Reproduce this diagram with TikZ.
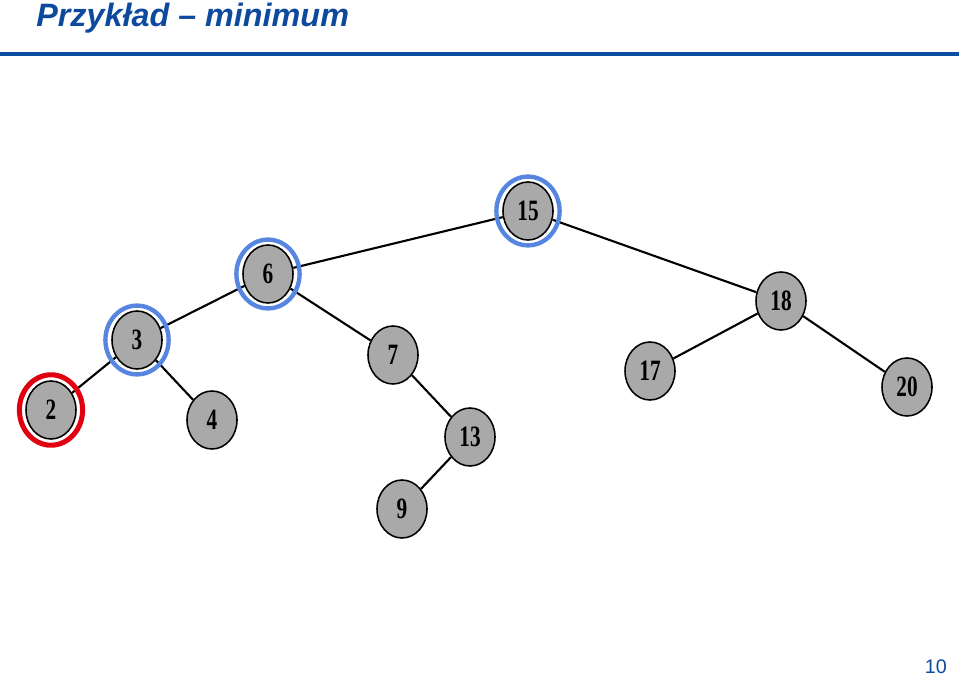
\documentclass[tikz,border=0pt]{standalone}
\usepackage{fontspec}
\setmainfont{Liberation Sans}
\newfontfamily\keyfont[FakeStretch=0.72]{Liberation Serif}
\usetikzlibrary{shapes.geometric}
\definecolor{cTitle}{HTML}{0D4A9E}
\definecolor{cRule}{HTML}{0B4DA2}
\definecolor{cRing}{HTML}{5686E0}
\definecolor{cMin}{HTML}{E0000F}
\definecolor{cKey}{HTML}{A9A9A9}
\tikzset{
  key/.style={ellipse, draw=black, line width=1.1pt, fill=cKey,
              minimum width=1.25cm, minimum height=1.45cm, inner sep=0pt,
              font=\keyfont\fontsize{21}{21}\selectfont\bfseries},
  link/.style={line width=1.5pt, black},
  ring/.style={line width=3.1pt, cRing},
  ringmin/.style={ring, cMin, line width=3.6pt},
  headline/.style={font=\fontsize{23}{23}\selectfont\bfseries\itshape, text=cTitle, inner sep=0pt},
  pagenum/.style={font=\fontsize{14}{14}\selectfont, text=cTitle, inner sep=0pt}
}

\begin{document}
\begin{tikzpicture}[x=0.025cm, y=-0.025cm]
\useasboundingbox (0,0) rectangle (959,676);
% header
\node[headline, anchor=base west] (title) at (36,27) {Przykład – minimum};
\draw[cRule, line width=2.2pt] (0,54) -- (959,54);
\node[pagenum, anchor=base east] (pg) at (947,673) {10};
% keys of the tree
\node[key] (n15) at (528,211) {15};
\node[key] (n6)  at (268,274) {6};
\node[key] (n3)  at (137,340) {3};
\node[key] (n2)  at (51,410)  {2};
\node[key] (n4)  at (212,420) {4};
\node[key] (n7)  at (393,355) {7};
\node[key] (n13) at (470,437) {13};
\node[key] (n9)  at (402,509) {9};
\node[key] (n18) at (781,301) {18};
\node[key] (n17) at (650,371) {17};
\node[key] (n20) at (907,387) {20};
\foreach \a/\b in {15/6,15/18,6/3,6/7,3/2,3/4,7/13,13/9,18/17,18/20}
  \draw[link] (n\a) -- (n\b);
% path to the minimum
\foreach \n in {15,6,3}
  \draw[ring] (n\n.center) ellipse [x radius=0.79cm, y radius=0.86cm];
\draw[ringmin] (n2.center) ellipse [x radius=0.79cm, y radius=0.88cm];
\end{tikzpicture}
\end{document}
